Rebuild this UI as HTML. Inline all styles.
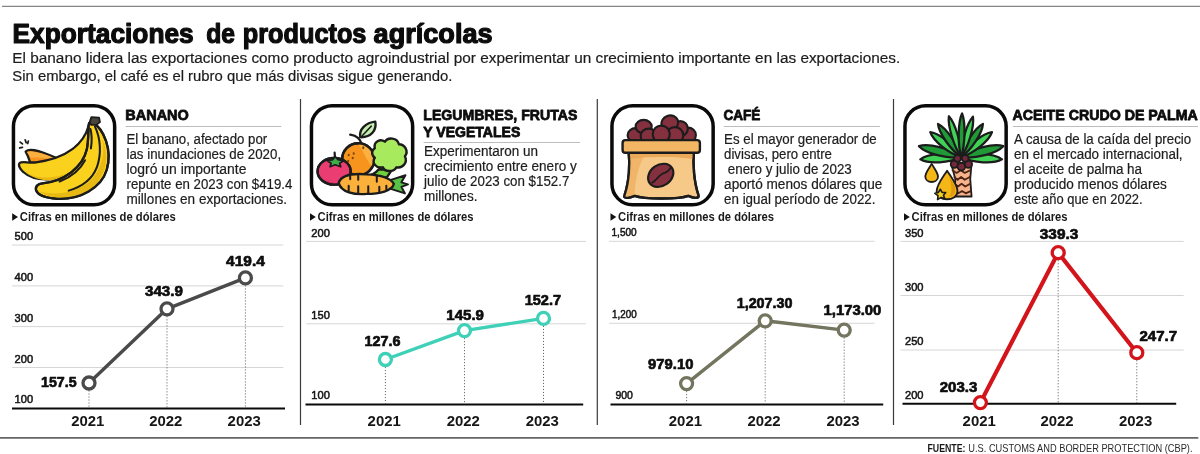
<!DOCTYPE html>
<html lang="es"><head><meta charset="utf-8"><title>Exportaciones de productos agrícolas</title>
<style>
html,body{margin:0;padding:0;background:#fff;}
body{width:1200px;height:454px;overflow:hidden;}
svg{display:block;font-family:"Liberation Sans", sans-serif;}
</style></head><body>
<svg width="1200" height="454" viewBox="0 0 1200 454">
<rect width="1200" height="454" fill="#fff"/>
<line x1="2" y1="6.4" x2="1200" y2="6.4" stroke="#858585" stroke-width="1.2"/>
<text font-size="27.2" font-weight="700" fill="#0c0c0c" stroke="#0c0c0c" stroke-width="1.2" stroke-linejoin="round"><tspan x="12.5" y="42.5" textLength="181.2" lengthAdjust="spacingAndGlyphs">Exportaciones</tspan> <tspan x="206.3" y="42.5" textLength="28.8" lengthAdjust="spacingAndGlyphs">de</tspan> <tspan x="242.8" y="42.5" textLength="123.6" lengthAdjust="spacingAndGlyphs">productos</tspan> <tspan x="373.6" y="42.5" textLength="119" lengthAdjust="spacingAndGlyphs">agrícolas</tspan></text>
<text font-size="15.5" font-weight="400" fill="#1c1c1c" stroke="#1c1c1c" stroke-width="0.2"><tspan x="12.3" y="63.2" textLength="888" lengthAdjust="spacingAndGlyphs">El banano lidera las exportaciones como producto agroindustrial por experimentar un crecimiento importante en las exportaciones.</tspan> <tspan x="12.3" y="80.6" textLength="440" lengthAdjust="spacingAndGlyphs">Sin embargo, el café es el rubro que más divisas sigue generando.</tspan></text>
<line x1="300.5" y1="99" x2="300.5" y2="425" stroke="#3a3a3a" stroke-width="1.2"/>
<line x1="597.3" y1="99" x2="597.3" y2="425" stroke="#3a3a3a" stroke-width="1.2"/>
<line x1="893.5" y1="99" x2="893.5" y2="425" stroke="#3a3a3a" stroke-width="1.2"/>
<line x1="0" y1="437.9" x2="1198.3" y2="437.9" stroke="#666" stroke-width="1.6"/>
<text font-size="10.3" fill="#2a2a2a"><tspan x="927.5" y="452.2" font-weight="700" fill="#161616" textLength="38" lengthAdjust="spacingAndGlyphs">FUENTE:</tspan> <tspan x="968.3" y="452.2" textLength="224.2" lengthAdjust="spacingAndGlyphs">U.S. CUSTOMS AND BORDER PROTECTION (CBP).</tspan></text>
<rect x="13.45" y="105.75" width="101.2" height="98.9" rx="20.6" ry="20.6" fill="#fff" stroke="#0a0a0a" stroke-width="3.5"/>
<g transform="translate(12.0,104) scale(0.25105)"><g transform="scale(0.9032)"><g stroke="#1c1c1c" stroke-width="10" stroke-linejoin="round" stroke-linecap="round" fill="none">
<path d="M36 168 L46 176 M58 158 L62 170 M34 194 L46 191 M72 164 L69 174" stroke-width="8"/>
<path d="M60 210 C80 190 140 212 216 248 L150 264 L80 258 C74 240 70 226 60 210 Z" fill="#f7941d"/>
<path d="M66 212 C100 204 160 226 206 246 C160 240 110 232 84 238 Z" fill="#fbb040" stroke="none"/>
<path d="M338 96 C318 170 250 240 100 258 C70 260 44 252 34 260 C26 268 34 286 50 300 C100 346 220 346 300 282 C334 252 344 200 350 100 Z" fill="#fad21e"/>
<path d="M52 296 C100 336 220 336 296 276 C300 290 296 300 290 306 C220 350 110 350 52 296 Z" fill="#e8b913" stroke="none"/>
<path d="M354 78 C404 110 444 200 418 290 C394 370 300 422 200 418 C150 415 114 402 106 380 C102 362 116 352 134 350 C230 340 312 280 330 200 C340 150 334 110 340 84 Z" fill="#fad21e"/>
<path d="M120 386 C200 406 300 392 360 322 C400 272 412 200 396 150 C432 230 420 310 350 374 C290 422 180 426 120 386 Z" fill="#e8b913" stroke="none"/>
<path d="M354 78 C404 110 444 200 418 290 C394 370 300 422 200 418 C150 415 114 402 106 380 C102 362 116 352 134 350 C230 340 312 280 330 200 C340 150 334 110 340 84 Z"/>
<path d="M366 100 C390 150 396 220 374 280 C352 336 300 368 250 382" stroke-width="9"/>
<path d="M346 110 C354 140 352 170 348 196" stroke-width="9"/>
<path d="M322 248 C300 292 260 322 210 342" stroke-width="9"/>
<path d="M342 82 L350 58 L384 60 L388 80 L372 92 L350 92 Z" fill="#4a443c" stroke-width="8"/>
<path d="M276 176 L268 186" stroke="#fff" stroke-width="7"/>
</g></g></g>
<text font-size="15.2" font-weight="700" fill="#0c0c0c" stroke="#0c0c0c" stroke-width="0.8" stroke-linejoin="round"><tspan x="125.3" y="119.5" textLength="63.5" lengthAdjust="spacingAndGlyphs">BANANO</tspan></text>
<line x1="125.6" y1="126.5" x2="281.3" y2="126.5" stroke="#b5b5b5" stroke-width="0.9"/>
<text font-size="14" font-weight="400" fill="#1d1d1d" stroke="#1d1d1d" stroke-width="0.2"><tspan x="126.5" y="143.8" textLength="140.7" lengthAdjust="spacingAndGlyphs">El banano, afectado por</tspan> <tspan x="126.5" y="158.8" textLength="154.6" lengthAdjust="spacingAndGlyphs">las inundaciones de 2020,</tspan> <tspan x="126.5" y="173.8" textLength="119.9" lengthAdjust="spacingAndGlyphs">logró un importante</tspan> <tspan x="126.5" y="188.8" textLength="165.9" lengthAdjust="spacingAndGlyphs">repunte en 2023 con $419.4</tspan> <tspan x="126.5" y="203.8" textLength="160.6" lengthAdjust="spacingAndGlyphs">millones en exportaciones.</tspan></text>
<path d="M12.2 213.3 l5.8 3.75 l-5.8 3.75z" fill="#111"/>
<text x="19.799999999999997" y="220.8" font-size="11.9" font-weight="700" text-anchor="start" fill="#1a1a1a" textLength="156" lengthAdjust="spacingAndGlyphs">Cifras en millones de dólares</text>
<line x1="12" y1="245" x2="283.3" y2="245" stroke="#d6d6d6" stroke-width="1"/>
<text x="14.6" y="240.1" font-size="11.5" font-weight="400" text-anchor="start" fill="#161616" textLength="18.5" lengthAdjust="spacingAndGlyphs" stroke="#161616" stroke-width="0.55">500</text>
<line x1="12" y1="285.9" x2="283.3" y2="285.9" stroke="#d6d6d6" stroke-width="1"/>
<text x="14.6" y="281.0" font-size="11.5" font-weight="400" text-anchor="start" fill="#161616" textLength="18.5" lengthAdjust="spacingAndGlyphs" stroke="#161616" stroke-width="0.55">400</text>
<line x1="12" y1="326.6" x2="283.3" y2="326.6" stroke="#d6d6d6" stroke-width="1"/>
<text x="14.6" y="321.7" font-size="11.5" font-weight="400" text-anchor="start" fill="#161616" textLength="18.5" lengthAdjust="spacingAndGlyphs" stroke="#161616" stroke-width="0.55">300</text>
<line x1="12" y1="367.5" x2="283.3" y2="367.5" stroke="#d6d6d6" stroke-width="1"/>
<text x="14.6" y="362.6" font-size="11.5" font-weight="400" text-anchor="start" fill="#161616" textLength="18.5" lengthAdjust="spacingAndGlyphs" stroke="#161616" stroke-width="0.55">200</text>
<text x="14.6" y="403.4" font-size="11.5" font-weight="400" text-anchor="start" fill="#161616" textLength="18.5" lengthAdjust="spacingAndGlyphs" stroke="#161616" stroke-width="0.55">100</text>
<line x1="89" y1="390.5" x2="89" y2="407.5" stroke="#666" stroke-width="1" stroke-dasharray="1.1 1.9"/>
<line x1="167" y1="316.3" x2="167" y2="407.5" stroke="#666" stroke-width="1" stroke-dasharray="1.1 1.9"/>
<line x1="245.4" y1="285.4" x2="245.4" y2="407.5" stroke="#666" stroke-width="1" stroke-dasharray="1.1 1.9"/>
<line x1="12" y1="408.5" x2="285" y2="408.5" stroke="#0a0a0a" stroke-width="2"/>
<polyline points="89,383 167,308.8 245.4,277.9" fill="none" stroke="#4a4a4a" stroke-width="3.4" stroke-linejoin="round" stroke-linecap="round"/>
<circle cx="89" cy="383" r="6" fill="#fff" stroke="#4a4a4a" stroke-width="3.3"/>
<circle cx="167" cy="308.8" r="6" fill="#fff" stroke="#4a4a4a" stroke-width="3.3"/>
<circle cx="245.4" cy="277.9" r="6" fill="#fff" stroke="#4a4a4a" stroke-width="3.3"/>
<text x="41.0" y="387.1" font-size="15" font-weight="700" text-anchor="start" fill="#0d0d0d" textLength="35.6" lengthAdjust="spacingAndGlyphs" stroke="#0d0d0d" stroke-width="0.7" stroke-linejoin="round">157.5</text>
<text x="145.0" y="295.9" font-size="15" font-weight="700" text-anchor="start" fill="#0d0d0d" textLength="37.9" lengthAdjust="spacingAndGlyphs" stroke="#0d0d0d" stroke-width="0.7" stroke-linejoin="round">343.9</text>
<text x="226.1" y="265.8" font-size="15" font-weight="700" text-anchor="start" fill="#0d0d0d" textLength="38.7" lengthAdjust="spacingAndGlyphs" stroke="#0d0d0d" stroke-width="0.7" stroke-linejoin="round">419.4</text>
<text x="71.2" y="426.2" font-size="14.6" font-weight="700" text-anchor="start" fill="#161616" textLength="33.2" lengthAdjust="spacingAndGlyphs">2021</text>
<text x="149.2" y="426.2" font-size="14.6" font-weight="700" text-anchor="start" fill="#161616" textLength="33.2" lengthAdjust="spacingAndGlyphs">2022</text>
<text x="227.6" y="426.2" font-size="14.6" font-weight="700" text-anchor="start" fill="#161616" textLength="33.2" lengthAdjust="spacingAndGlyphs">2023</text>
<rect x="311.45" y="105.75" width="101.2" height="98.9" rx="20.6" ry="20.6" fill="#fff" stroke="#0a0a0a" stroke-width="3.5"/>
<g transform="translate(304.0,98) scale(0.25105)"><g stroke="#1c1c1c" stroke-width="9.5" stroke-linejoin="round" stroke-linecap="round" fill="none">
<path d="M230 186 C226 166 210 150 184 146" stroke-width="9"/>
<path d="M224 156 C218 126 246 98 284 94 C290 128 268 158 224 156 Z" fill="#c4efb0"/>
<path d="M232 150 L268 112" stroke-width="6"/>
<circle cx="216" cy="244" r="64" fill="#f7941e"/>
<path d="M216 180 A64 64 0 0 1 272 274 C250 250 240 220 216 180 Z" fill="#fbb040" stroke="none"/>
<circle cx="216" cy="244" r="64"/>
<path d="M178 226 L178 228 M194 238 L194 240 M176 250 L176 252 M198 220 L198 222 M236 196 L236 200" stroke="#7a4306" stroke-width="8"/>
<path d="M298 284 C288 296 270 308 250 312 L330 316 L350 286 Z" fill="#6fcf3c"/>
<path d="M282 200 C276 174 304 160 322 174 C334 154 372 158 378 184 C402 184 418 212 402 232 C414 256 394 282 368 276 C356 296 322 296 314 276 C288 282 268 258 282 238 C268 228 268 208 282 200 Z" fill="#a8ea5e"/>
<ellipse cx="120" cy="292" rx="66" ry="53" fill="#ea3d72"/>
<path d="M66 300 C76 332 120 348 164 336 C140 350 86 348 66 300 Z" fill="#c92a5c" stroke="none"/>
<ellipse cx="120" cy="292" rx="66" ry="53"/>
<path d="M124 250 L122 218" stroke-width="9"/>
<path d="M90 248 L114 246 L124 234 L136 246 L158 250 L142 260 L146 274 L124 266 L104 274 L108 260 Z" fill="#3fae49" stroke-width="7"/>
<path d="M346 326 L404 308 L388 336 L414 344 L388 354 L402 380 L346 362 Z" fill="#58c247" stroke-width="8"/>
<path d="M138 338 C148 306 200 300 250 304 C300 306 342 314 358 342 C352 370 300 382 250 382 C200 386 148 376 138 338 Z" fill="#fbb03b"/>
<path d="M178 370 L178 350 M216 376 L216 352 M216 308 L216 326 M256 378 L256 352 M290 312 L290 334 M300 374 L300 354 M328 364 L328 350 M184 312 L184 324" stroke-width="8"/>
</g></g>
<text font-size="15.2" font-weight="700" fill="#0c0c0c" stroke="#0c0c0c" stroke-width="0.8" stroke-linejoin="round"><tspan x="423.3" y="119.5" textLength="154" lengthAdjust="spacingAndGlyphs">LEGUMBRES, FRUTAS</tspan> <tspan x="423.3" y="136.5" textLength="97" lengthAdjust="spacingAndGlyphs">Y VEGETALES</tspan></text>
<line x1="423.6" y1="142.5" x2="580" y2="142.5" stroke="#b5b5b5" stroke-width="0.9"/>
<text font-size="14" font-weight="400" fill="#1d1d1d" stroke="#1d1d1d" stroke-width="0.2"><tspan x="424.1" y="156.2" textLength="113.9" lengthAdjust="spacingAndGlyphs">Experimentaron un</tspan> <tspan x="424.1" y="171.2" textLength="152.6" lengthAdjust="spacingAndGlyphs">crecimiento entre enero y</tspan> <tspan x="424.1" y="186.2" textLength="145.3" lengthAdjust="spacingAndGlyphs">julio de 2023 con $152.7</tspan> <tspan x="424.1" y="201.2" textLength="53.3" lengthAdjust="spacingAndGlyphs">millones.</tspan></text>
<path d="M310 213.3 l5.8 3.75 l-5.8 3.75z" fill="#111"/>
<text x="317.6" y="220.8" font-size="11.9" font-weight="700" text-anchor="start" fill="#1a1a1a" textLength="156" lengthAdjust="spacingAndGlyphs">Cifras en millones de dólares</text>
<line x1="306.3" y1="241.4" x2="586" y2="241.4" stroke="#d6d6d6" stroke-width="1"/>
<text x="311.3" y="236.5" font-size="11.5" font-weight="400" text-anchor="start" fill="#161616" textLength="18.5" lengthAdjust="spacingAndGlyphs" stroke="#161616" stroke-width="0.55">200</text>
<line x1="306.3" y1="323.8" x2="586" y2="323.8" stroke="#d6d6d6" stroke-width="1"/>
<text x="311.3" y="318.9" font-size="11.5" font-weight="400" text-anchor="start" fill="#161616" textLength="18.5" lengthAdjust="spacingAndGlyphs" stroke="#161616" stroke-width="0.55">150</text>
<text x="311.3" y="399.3" font-size="11.5" font-weight="400" text-anchor="start" fill="#161616" textLength="18.5" lengthAdjust="spacingAndGlyphs" stroke="#161616" stroke-width="0.55">100</text>
<line x1="385.4" y1="367.0" x2="385.4" y2="403.4" stroke="#666" stroke-width="1" stroke-dasharray="1.1 1.9"/>
<line x1="464.5" y1="338.1" x2="464.5" y2="403.4" stroke="#666" stroke-width="1" stroke-dasharray="1.1 1.9"/>
<line x1="543.5" y1="325.9" x2="543.5" y2="403.4" stroke="#666" stroke-width="1" stroke-dasharray="1.1 1.9"/>
<line x1="305.5" y1="404.4" x2="583.2" y2="404.4" stroke="#0a0a0a" stroke-width="2"/>
<polyline points="385.4,359.5 464.5,330.6 543.5,318.4" fill="none" stroke="#3fd0b8" stroke-width="3.4" stroke-linejoin="round" stroke-linecap="round"/>
<circle cx="385.4" cy="359.5" r="6" fill="#fff" stroke="#3fd0b8" stroke-width="3.3"/>
<circle cx="464.5" cy="330.6" r="6" fill="#fff" stroke="#3fd0b8" stroke-width="3.3"/>
<circle cx="543.5" cy="318.4" r="6" fill="#fff" stroke="#3fd0b8" stroke-width="3.3"/>
<text x="364.5" y="346.2" font-size="15" font-weight="700" text-anchor="start" fill="#0d0d0d" textLength="36" lengthAdjust="spacingAndGlyphs" stroke="#0d0d0d" stroke-width="0.7" stroke-linejoin="round">127.6</text>
<text x="446.3" y="319.8" font-size="15" font-weight="700" text-anchor="start" fill="#0d0d0d" textLength="37.7" lengthAdjust="spacingAndGlyphs" stroke="#0d0d0d" stroke-width="0.7" stroke-linejoin="round">145.9</text>
<text x="524.7" y="304.7" font-size="15" font-weight="700" text-anchor="start" fill="#0d0d0d" textLength="36.4" lengthAdjust="spacingAndGlyphs" stroke="#0d0d0d" stroke-width="0.7" stroke-linejoin="round">152.7</text>
<text x="367.6" y="426.2" font-size="14.6" font-weight="700" text-anchor="start" fill="#161616" textLength="33.2" lengthAdjust="spacingAndGlyphs">2021</text>
<text x="446.7" y="426.2" font-size="14.6" font-weight="700" text-anchor="start" fill="#161616" textLength="33.2" lengthAdjust="spacingAndGlyphs">2022</text>
<text x="525.7" y="426.2" font-size="14.6" font-weight="700" text-anchor="start" fill="#161616" textLength="33.2" lengthAdjust="spacingAndGlyphs">2023</text>
<rect x="611.95" y="105.75" width="101.2" height="98.9" rx="20.6" ry="20.6" fill="#fff" stroke="#0a0a0a" stroke-width="3.5"/>
<g transform="translate(604.0,98) scale(0.25105)"><g stroke="#1c1c1c" stroke-width="9.5" stroke-linejoin="round" stroke-linecap="round" fill="none">
<g fill="#85303f" stroke-width="8.5">
<ellipse cx="126" cy="148" rx="32" ry="28"/>
<ellipse cx="158" cy="114" rx="32" ry="27"/>
<ellipse cx="334" cy="148" rx="32" ry="30"/>
<ellipse cx="304" cy="122" rx="30" ry="30"/>
<ellipse cx="262" cy="100" rx="34" ry="30" transform="rotate(-20 262 100)"/>
<ellipse cx="178" cy="152" rx="32" ry="30"/>
<ellipse cx="282" cy="148" rx="34" ry="32"/>
<ellipse cx="228" cy="144" rx="34" ry="34"/>
</g>
<path d="M98 214 L358 214 C354 262 358 334 376 386 C382 404 352 398 336 390 C300 404 160 404 122 390 C104 398 74 404 82 386 C100 334 104 262 98 214 Z" fill="#f7c988"/>
<path d="M98 214 L170 214 C136 262 122 340 122 390 C104 398 74 404 82 386 C100 334 104 262 98 214 Z" fill="#f1b569" stroke="none"/>
<path d="M98 214 L358 214 L356 244 C300 232 160 232 100 244 Z" fill="#e9a958" stroke="none"/>
<path d="M98 214 L358 214 C354 262 358 334 376 386 C382 404 352 398 336 390 C300 404 160 404 122 390 C104 398 74 404 82 386 C100 334 104 262 98 214 Z"/>
<rect x="74" y="168" width="308" height="50" rx="11" fill="#f3b664"/>
<ellipse cx="226" cy="308" rx="54" ry="42" transform="rotate(-35 226 308)" fill="#85303f" stroke-width="8.5"/>
<path d="M192 338 C214 324 220 302 242 298 C254 294 262 284 266 276" stroke-width="7"/>
</g></g>
<text font-size="15.2" font-weight="700" fill="#0c0c0c" stroke="#0c0c0c" stroke-width="0.8" stroke-linejoin="round"><tspan x="723.4" y="119.5" textLength="37" lengthAdjust="spacingAndGlyphs">CAFÉ</tspan></text>
<line x1="723.6999999999999" y1="126.5" x2="880" y2="126.5" stroke="#b5b5b5" stroke-width="0.9"/>
<text font-size="14" font-weight="400" fill="#1d1d1d" stroke="#1d1d1d" stroke-width="0.2"><tspan x="724.1" y="143.8" textLength="152.6" lengthAdjust="spacingAndGlyphs">Es el mayor generador de</tspan> <tspan x="724.1" y="158.8" textLength="107.8" lengthAdjust="spacingAndGlyphs">divisas, pero entre</tspan> <tspan x="727.8" y="173.8" textLength="124" lengthAdjust="spacingAndGlyphs">enero y julio de 2023</tspan> <tspan x="724.1" y="188.8" textLength="158.2" lengthAdjust="spacingAndGlyphs">aportó menos dólares que</tspan> <tspan x="724.1" y="203.8" textLength="151.4" lengthAdjust="spacingAndGlyphs">en igual período de 2022.</tspan></text>
<path d="M610.5 213.3 l5.8 3.75 l-5.8 3.75z" fill="#111"/>
<text x="618.1" y="220.8" font-size="11.9" font-weight="700" text-anchor="start" fill="#1a1a1a" textLength="156" lengthAdjust="spacingAndGlyphs">Cifras en millones de dólares</text>
<line x1="609" y1="241.3" x2="874.5" y2="241.3" stroke="#d6d6d6" stroke-width="1"/>
<text x="611.5" y="236.4" font-size="11.5" font-weight="400" text-anchor="start" fill="#161616" textLength="25.2" lengthAdjust="spacingAndGlyphs" stroke="#161616" stroke-width="0.55">1,500</text>
<line x1="609" y1="323.3" x2="874.5" y2="323.3" stroke="#d6d6d6" stroke-width="1"/>
<text x="612" y="318.4" font-size="11.5" font-weight="400" text-anchor="start" fill="#161616" textLength="24.6" lengthAdjust="spacingAndGlyphs" stroke="#161616" stroke-width="0.55">1,200</text>
<text x="615.4" y="399.3" font-size="11.5" font-weight="400" text-anchor="start" fill="#161616" textLength="17.4" lengthAdjust="spacingAndGlyphs" stroke="#161616" stroke-width="0.55">900</text>
<line x1="686.6" y1="391.1" x2="686.6" y2="403.4" stroke="#666" stroke-width="1" stroke-dasharray="1.1 1.9"/>
<line x1="765.2" y1="328.3" x2="765.2" y2="403.4" stroke="#666" stroke-width="1" stroke-dasharray="1.1 1.9"/>
<line x1="844.2" y1="337.6" x2="844.2" y2="403.4" stroke="#666" stroke-width="1" stroke-dasharray="1.1 1.9"/>
<line x1="610.5" y1="404.4" x2="883.2" y2="404.4" stroke="#0a0a0a" stroke-width="2"/>
<polyline points="686.6,383.6 765.2,320.8 844.2,330.1" fill="none" stroke="#74755e" stroke-width="3.4" stroke-linejoin="round" stroke-linecap="round"/>
<circle cx="686.6" cy="383.6" r="6" fill="#fff" stroke="#74755e" stroke-width="3.3"/>
<circle cx="765.2" cy="320.8" r="6" fill="#fff" stroke="#74755e" stroke-width="3.3"/>
<circle cx="844.2" cy="330.1" r="6" fill="#fff" stroke="#74755e" stroke-width="3.3"/>
<text x="648.1" y="369.3" font-size="15" font-weight="700" text-anchor="start" fill="#0d0d0d" textLength="45.3" lengthAdjust="spacingAndGlyphs" stroke="#0d0d0d" stroke-width="0.7" stroke-linejoin="round">979.10</text>
<text x="736.7" y="308.2" font-size="15" font-weight="700" text-anchor="start" fill="#0d0d0d" textLength="55.8" lengthAdjust="spacingAndGlyphs" stroke="#0d0d0d" stroke-width="0.7" stroke-linejoin="round">1,207.30</text>
<text x="823.5" y="315.1" font-size="15" font-weight="700" text-anchor="start" fill="#0d0d0d" textLength="57.8" lengthAdjust="spacingAndGlyphs" stroke="#0d0d0d" stroke-width="0.7" stroke-linejoin="round">1,173.00</text>
<text x="668.8" y="426.2" font-size="14.6" font-weight="700" text-anchor="start" fill="#161616" textLength="33.2" lengthAdjust="spacingAndGlyphs">2021</text>
<text x="747.4" y="426.2" font-size="14.6" font-weight="700" text-anchor="start" fill="#161616" textLength="33.2" lengthAdjust="spacingAndGlyphs">2022</text>
<text x="826.4" y="426.2" font-size="14.6" font-weight="700" text-anchor="start" fill="#161616" textLength="33.2" lengthAdjust="spacingAndGlyphs">2023</text>
<rect x="904.95" y="105.75" width="101.2" height="98.9" rx="20.6" ry="20.6" fill="#fff" stroke="#0a0a0a" stroke-width="3.5"/>
<g transform="translate(904.0,104) scale(0.25105)"><g transform="scale(0.9032)"><g stroke="#1c1c1c" stroke-width="9" stroke-linejoin="round" stroke-linecap="round" fill="none">
<g stroke-width="10">
<path d="M252 234 C197 213 107 218 72 244 C109 266 199 261 252 234 Z" fill="#3fd254"/>
<path d="M252 234 C305 261 395 266 432 244 C397 218 307 213 252 234 Z" fill="#3fd254"/>
<path d="M252 234 C202 196 109 172 66 186 C97 219 190 243 252 234 Z" fill="#1f9a36"/>
<path d="M252 234 C314 243 407 219 438 186 C395 172 302 196 252 234 Z" fill="#1f9a36"/>
<path d="M252 234 C225 184 157 129 116 124 C129 163 197 218 252 234 Z" fill="#3fd254"/>
<path d="M252 234 C307 218 375 163 388 124 C347 129 279 184 252 234 Z" fill="#3fd254"/>
<path d="M252 234 C238 179 187 106 150 88 C154 129 205 202 252 234 Z" fill="#1f9a36"/>
<path d="M252 234 C298 201 346 128 348 88 C312 106 264 179 252 234 Z" fill="#1f9a36"/>
<path d="M252 234 C253 175 226 85 198 54 C192 95 219 185 252 234 Z" fill="#3fd254"/>
<path d="M252 234 C285 186 311 97 304 56 C276 87 250 176 252 234 Z" fill="#3fd254"/>
<path d="M252 234 C270 177 272 81 256 42 C238 80 236 176 252 234 Z" fill="#1f9a36"/>
</g>
<path d="M208 262 L298 262 L292 330 L298 408 L224 408 L226 330 Z" fill="#f7b48c" stroke-width="8"/>
<path d="M214 292 L232 304 L250 292 L268 304 L292 292 M222 322 L236 334 L252 322 L268 334 L290 322 M224 352 L238 364 L254 352 L270 364 L292 352 M224 384 L240 394 L256 384 L272 394 L294 384" stroke="#4e2416" stroke-width="8"/>
<g fill="#74283a" stroke-width="8">
<circle cx="222" cy="266" r="16"/><circle cx="284" cy="266" r="16"/><circle cx="253" cy="276" r="17"/>
<circle cx="236" cy="240" r="15"/><circle cx="270" cy="240" r="15"/>
</g>
<path d="M122 264 C138 290 150 304 150 320 C150 336 136 344 122 344 C108 344 94 336 94 320 C94 304 106 290 122 264 Z" fill="#f5b716" stroke-width="8"/>
<path d="M190 294 C216 334 236 358 236 384 C236 408 214 420 190 420 C166 420 144 408 144 384 C144 358 164 334 190 294 Z" fill="#f5b716" stroke-width="8"/>
<path d="M196 312 C214 340 226 360 226 382 C226 400 212 410 196 412 C216 396 210 350 196 312 Z" fill="#e29a0a" stroke="none"/>
<path d="M160 376 L168 390 L184 390 L174 402 L180 418 L164 412 L148 422 L150 404 L136 394 L152 390 Z" fill="#f5d21a" stroke-width="7"/>
</g></g></g>
<text font-size="15.2" font-weight="700" fill="#0c0c0c" stroke="#0c0c0c" stroke-width="0.8" stroke-linejoin="round"><tspan x="1012.6" y="119.5" textLength="185.2" lengthAdjust="spacingAndGlyphs">ACEITE CRUDO DE PALMA</tspan></text>
<line x1="1012.9" y1="126.5" x2="1198" y2="126.5" stroke="#b5b5b5" stroke-width="0.9"/>
<text font-size="14" font-weight="400" fill="#1d1d1d" stroke="#1d1d1d" stroke-width="0.2"><tspan x="1014.1" y="143.8" textLength="177" lengthAdjust="spacingAndGlyphs">A causa de la caída del precio</tspan> <tspan x="1014.1" y="158.8" textLength="168.5" lengthAdjust="spacingAndGlyphs">en el mercado internacional,</tspan> <tspan x="1014.1" y="173.8" textLength="128" lengthAdjust="spacingAndGlyphs">el aceite de palma ha</tspan> <tspan x="1014.1" y="188.8" textLength="152.7" lengthAdjust="spacingAndGlyphs">producido menos dólares</tspan> <tspan x="1014.1" y="203.8" textLength="128.5" lengthAdjust="spacingAndGlyphs">este año que en 2022.</tspan></text>
<path d="M904 213.3 l5.8 3.75 l-5.8 3.75z" fill="#111"/>
<text x="911.6" y="220.8" font-size="11.9" font-weight="700" text-anchor="start" fill="#1a1a1a" textLength="156" lengthAdjust="spacingAndGlyphs">Cifras en millones de dólares</text>
<line x1="900.5" y1="241.4" x2="1183.7" y2="241.4" stroke="#d6d6d6" stroke-width="1"/>
<text x="905" y="236.5" font-size="11.5" font-weight="400" text-anchor="start" fill="#161616" textLength="18.5" lengthAdjust="spacingAndGlyphs" stroke="#161616" stroke-width="0.55">350</text>
<line x1="900.5" y1="295.5" x2="1183.7" y2="295.5" stroke="#d6d6d6" stroke-width="1"/>
<text x="905" y="290.6" font-size="11.5" font-weight="400" text-anchor="start" fill="#161616" textLength="18.5" lengthAdjust="spacingAndGlyphs" stroke="#161616" stroke-width="0.55">300</text>
<line x1="900.5" y1="350" x2="1183.7" y2="350" stroke="#d6d6d6" stroke-width="1"/>
<text x="905" y="345.1" font-size="11.5" font-weight="400" text-anchor="start" fill="#161616" textLength="18.5" lengthAdjust="spacingAndGlyphs" stroke="#161616" stroke-width="0.55">250</text>
<text x="905" y="398.7" font-size="11.5" font-weight="400" text-anchor="start" fill="#161616" textLength="18.5" lengthAdjust="spacingAndGlyphs" stroke="#161616" stroke-width="0.55">200</text>
<line x1="1058.2" y1="260.2" x2="1058.2" y2="402.8" stroke="#666" stroke-width="1" stroke-dasharray="1.1 1.9"/>
<line x1="1136.8" y1="360.2" x2="1136.8" y2="402.8" stroke="#666" stroke-width="1" stroke-dasharray="1.1 1.9"/>
<line x1="902.5" y1="403.8" x2="1176.2" y2="403.8" stroke="#0a0a0a" stroke-width="2"/>
<polyline points="980.4,402.6 1058.2,252.7 1136.8,352.7" fill="none" stroke="#d3151b" stroke-width="4.2" stroke-linejoin="round" stroke-linecap="round"/>
<circle cx="980.4" cy="402.6" r="6" fill="#fff" stroke="#d3151b" stroke-width="3.3"/>
<circle cx="1058.2" cy="252.7" r="6" fill="#fff" stroke="#d3151b" stroke-width="3.3"/>
<circle cx="1136.8" cy="352.7" r="6" fill="#fff" stroke="#d3151b" stroke-width="3.3"/>
<text x="939.7" y="392.1" font-size="15" font-weight="700" text-anchor="start" fill="#0d0d0d" textLength="37.6" lengthAdjust="spacingAndGlyphs" stroke="#0d0d0d" stroke-width="0.7" stroke-linejoin="round">203.3</text>
<text x="1039.8" y="239.4" font-size="15" font-weight="700" text-anchor="start" fill="#0d0d0d" textLength="38.5" lengthAdjust="spacingAndGlyphs" stroke="#0d0d0d" stroke-width="0.7" stroke-linejoin="round">339.3</text>
<text x="1139.4" y="341.4" font-size="15" font-weight="700" text-anchor="start" fill="#0d0d0d" textLength="37.7" lengthAdjust="spacingAndGlyphs" stroke="#0d0d0d" stroke-width="0.7" stroke-linejoin="round">247.7</text>
<text x="962.6" y="426.2" font-size="14.6" font-weight="700" text-anchor="start" fill="#161616" textLength="33.2" lengthAdjust="spacingAndGlyphs">2021</text>
<text x="1040.4" y="426.2" font-size="14.6" font-weight="700" text-anchor="start" fill="#161616" textLength="33.2" lengthAdjust="spacingAndGlyphs">2022</text>
<text x="1119.0" y="426.2" font-size="14.6" font-weight="700" text-anchor="start" fill="#161616" textLength="33.2" lengthAdjust="spacingAndGlyphs">2023</text>
</svg></body></html>
